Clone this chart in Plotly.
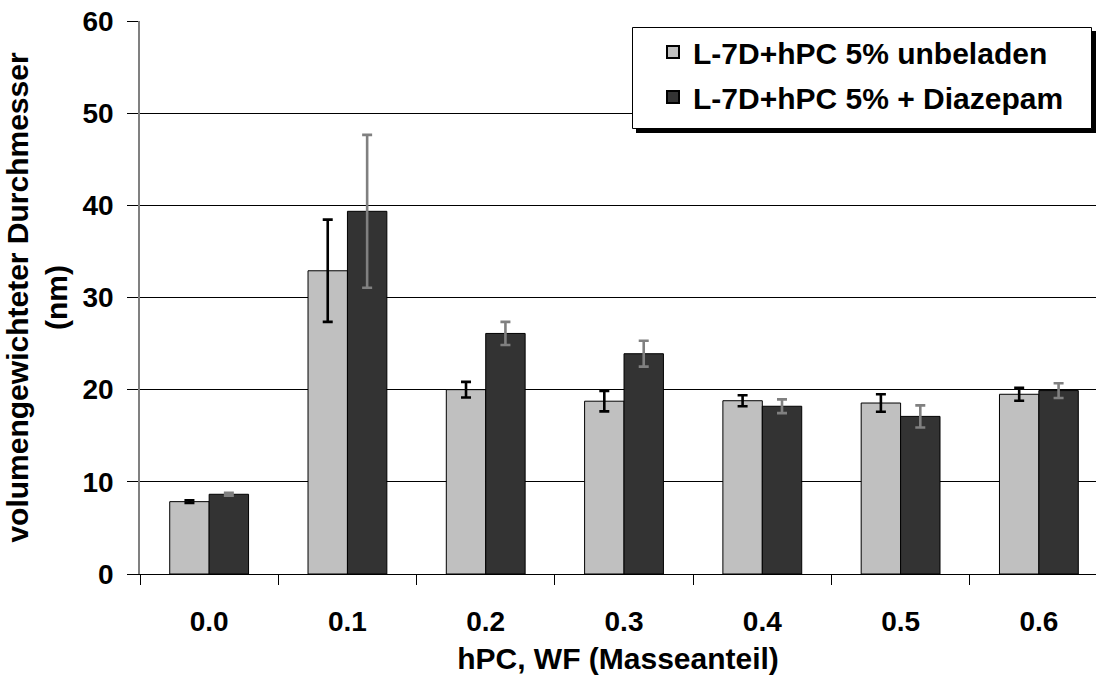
import plotly.graph_objects as go

categories = ["0.0", "0.1", "0.2", "0.3", "0.4", "0.5", "0.6"]
unbeladen = [7.85, 32.9, 20.0, 18.75, 18.8, 18.55, 19.5]
unbeladen_err = [0.15, 5.55, 0.85, 1.1, 0.6, 0.95, 0.7]
diazepam = [8.65, 39.35, 26.1, 23.9, 18.2, 17.1, 19.9]
diazepam_err = [0.15, 8.3, 1.25, 1.4, 0.75, 1.2, 0.8]
name_a = "L-7D+hPC 5% unbeladen"
name_b = "L-7D+hPC 5% + Diazepam"
y_ticks = [0, 10, 20, 30, 40, 50, 60]

FONT = "Arial, 'Liberation Sans', sans-serif"

fig = go.Figure()
fig.add_trace(go.Bar(
    x=categories, y=unbeladen, name=name_a, legendgroup="a",
    marker=dict(color="#C0C0C0", line=dict(color="#000000", width=1)),
    error_y=dict(type="data", array=unbeladen_err, visible=True,
                 color="#000000", thickness=2.6, width=5),
))
fig.add_trace(go.Bar(
    x=categories, y=diazepam, name=name_b, legendgroup="b",
    marker=dict(color="#333333", line=dict(color="#000000", width=1)),
    error_y=dict(type="data", array=diazepam_err, visible=True,
                 color="#808080", thickness=2.6, width=5),
))

L, R, T, B = 140, 0, 21, 101
W, H = 1096, 675
pw, ph = W - L - R, H - T - B

def px(x):
    return (x - L) / pw

def py(y):
    return (H - B - y) / ph

# legend shadow and box
fig.add_shape(type="rect", xref="paper", yref="paper",
              x0=px(636), x1=px(1097), y0=py(133), y1=py(31),
              fillcolor="#000000", line=dict(width=0), layer="above")
fig.add_shape(type="rect", xref="paper", yref="paper",
              x0=px(632.5), x1=px(1091.5), y0=py(128.5), y1=py(27.5),
              fillcolor="#FFFFFF", line=dict(color="#000000", width=1), layer="above")

fig.update_layout(
    width=W, height=H,
    margin=dict(l=L, r=R, t=T, b=B, autoexpand=False),
    paper_bgcolor="white", plot_bgcolor="white",
    barmode="group", bargap=0.43, bargroupgap=0,
    font=dict(family=FONT, color="#000000", size=28),
    showlegend=True,
    legend=dict(
        x=px(653), y=py(26), xanchor="left", yanchor="top",
        bgcolor="rgba(0,0,0,0)", borderwidth=0,
        font=dict(family=FONT, size=30, color="#000000", weight="bold"),
        tracegroupgap=3, itemsizing="constant",
    ),
    xaxis=dict(
        type="category", range=[-0.5, 6.413], automargin=False,
        showline=True, linecolor="#000000", linewidth=1,
        ticks="outside", tickson="boundaries", ticklen=10, tickcolor="#000000",
        tickfont=dict(family=FONT, size=28, weight="bold"),
        ticklabelstandoff=22,
        title=dict(text="<b>hPC, WF (Masseanteil)</b>", font=dict(family=FONT, size=30),
                   standoff=12),
        showgrid=False,
    ),
    yaxis=dict(
        range=[0, 60], tickvals=y_ticks, automargin=False,
        showline=True, linecolor="#808080", linewidth=1.5,
        ticks="outside", ticklen=11, tickcolor="#000000",
        tickfont=dict(family=FONT, size=28, weight="bold"),
        ticklabelstandoff=8,
        showgrid=True, gridcolor="#000000", gridwidth=1,
        zeroline=False,
        title=dict(text="<b>volumengewichteter Durchmesser<br>(nm)</b>",
                   font=dict(family=FONT, size=30), standoff=6),
    ),
)

fig.write_html("out.html", config={"displayModeBar": False},
               post_script="document.body.style.margin='0';")
